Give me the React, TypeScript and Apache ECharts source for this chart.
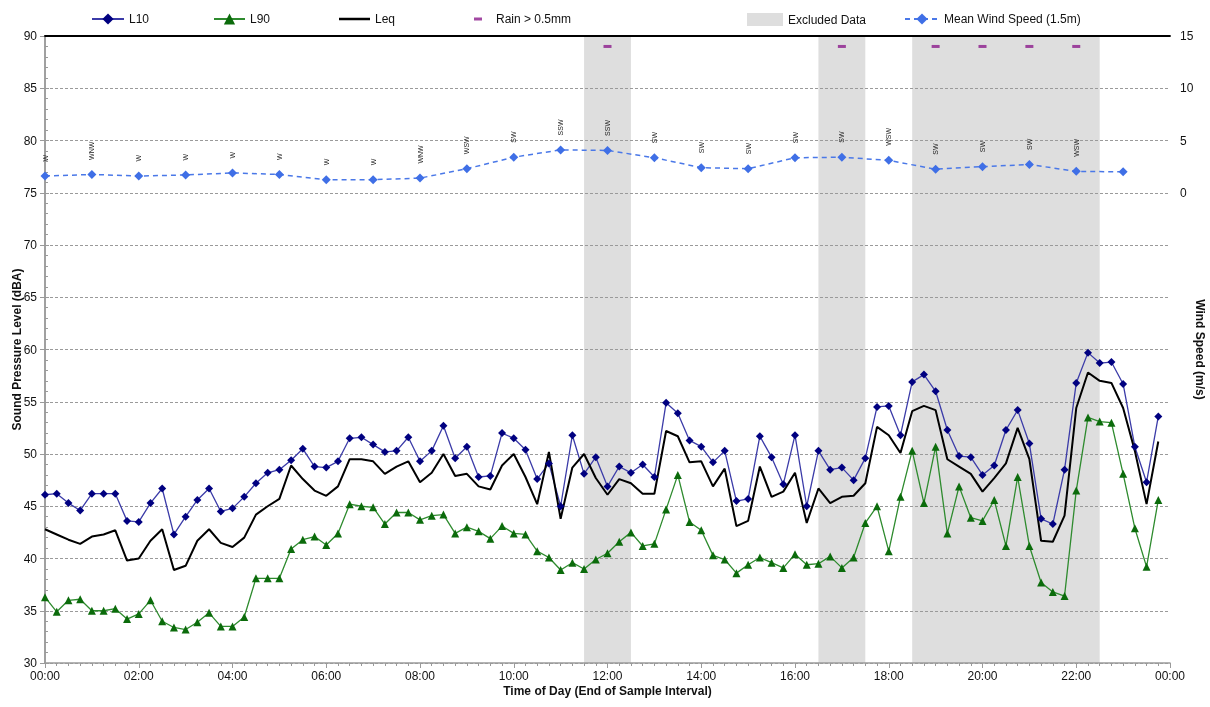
import React, { useEffect, useRef } from "react";
import * as echarts from "echarts";

// 15-minute samples, 00:00 .. 23:45
const L10 = [
  46.1, 46.2, 45.3, 44.6, 46.2, 46.2, 46.2, 43.6, 43.5, 45.3, 46.7, 42.3, 44.0, 45.6, 46.7, 44.5,
  44.8, 45.9, 47.2, 48.2, 48.5, 49.4, 50.5, 48.8, 48.7, 49.3, 51.5, 51.6, 50.9, 50.2, 50.3, 51.6,
  49.3, 50.3, 52.7, 49.6, 50.7, 47.8, 47.9, 52.0, 51.5, 50.4, 47.6, 49.1, 45.0, 51.8, 48.1, 49.7,
  46.9, 48.8, 48.2, 49.0, 47.8, 54.9, 53.9, 51.3, 50.7, 49.2, 50.3, 45.5, 45.7, 51.7, 49.7, 47.1,
  51.8, 45.0, 50.3, 48.5, 48.7, 47.5, 49.6, 54.5, 54.6, 51.8, 56.9, 57.6, 56.0, 52.3, 49.8, 49.7,
  48.0, 48.9, 52.3, 54.2, 51.0, 43.8, 43.3, 48.5, 56.8, 59.7, 58.7, 58.8, 56.7, 50.7, 47.3, 53.6,
];
const L90 = [
  36.3, 34.9, 36.0, 36.1, 35.0, 35.0, 35.2, 34.2, 34.7, 36.0, 34.0, 33.4, 33.2, 33.9, 34.8, 33.5,
  33.5, 34.4, 38.1, 38.1, 38.1, 40.9, 41.8, 42.1, 41.3, 42.4, 45.2, 45.0, 44.9, 43.3, 44.4, 44.4,
  43.7, 44.1, 44.2, 42.4, 43.0, 42.6, 41.9, 43.1, 42.4, 42.3, 40.7, 40.1, 38.9, 39.6, 39.0, 39.9,
  40.5, 41.6, 42.5, 41.2, 41.4, 44.7, 48.0, 43.5, 42.7, 40.3, 39.9, 38.6, 39.4, 40.1, 39.6, 39.1,
  40.4, 39.4, 39.5, 40.2, 39.1, 40.1, 43.4, 45.0, 40.7, 45.9, 50.3, 45.3, 50.7, 42.4, 46.9, 43.9,
  43.6, 45.6, 41.2, 47.8, 41.2, 37.7, 36.8, 36.4, 46.5, 53.5, 53.1, 53.0, 48.1, 42.9, 39.2, 45.6,
];
const LEQ = [
  42.8, 42.3, 41.8, 41.4, 42.1, 42.3, 42.7, 39.8, 40.0, 41.7, 42.8, 38.9, 39.3, 41.7, 42.8, 41.5,
  41.1, 42.0, 44.2, 45.0, 45.7, 48.9, 47.6, 46.5, 46.0, 46.9, 49.5, 49.5, 49.3, 48.1, 48.8, 49.3,
  47.3, 48.2, 50.0, 47.9, 48.1, 46.9, 46.6, 48.9, 50.0, 47.8, 45.2, 50.2, 43.8, 48.7, 50.0, 47.7,
  46.1, 47.6, 47.2, 46.2, 46.2, 52.2, 51.7, 49.2, 49.3, 46.9, 48.6, 43.1, 43.6, 48.8, 45.9, 46.4,
  48.2, 43.4, 46.7, 45.3, 45.9, 46.0, 47.2, 52.6, 51.8, 50.1, 54.1, 54.6, 54.2, 49.5, 48.8, 48.1,
  46.4, 47.7, 49.1, 52.5, 49.5, 41.7, 41.6, 44.1, 54.4, 57.8, 57.0, 56.8, 54.4, 50.3, 45.2, 51.2,
];

// hourly wind data, 00:00 .. 23:00
const windHours = [0, 1, 2, 3, 4, 5, 6, 7, 8, 9, 10, 11, 12, 13, 14, 15, 16, 17, 18, 19, 20, 21, 22, 23];
const windSpeed = [1.6, 1.75, 1.6, 1.7, 1.9, 1.75, 1.25, 1.25, 1.4, 2.3, 3.4, 4.1, 4.05, 3.35, 2.4, 2.3, 3.35, 3.4, 3.1, 2.25, 2.5, 2.7, 2.05, 2.0];
const windDir = ["W", "WNW", "W", "W", "W", "W", "W", "W", "WNW", "WSW", "SW", "SSW", "SSW", "SW", "SW", "SW", "SW", "SW", "WSW", "SW", "SW", "SW", "WSW", ""];

const rainHours = [12, 17, 19, 20, 21, 22];
const rainMarkLevel = 89;

const excludedRanges = [
  [11.5, 12.5],
  [16.5, 17.5],
  [18.5, 22.5],
];

// inner gridline levels (dBA) that stay visible across the excluded bands
const gridLevels = [35, 40, 45, 50, 55, 60, 65, 70, 75, 80, 85];

const xTickLabels = ["00:00", "02:00", "04:00", "06:00", "08:00", "10:00", "12:00", "14:00", "16:00", "18:00", "20:00", "22:00", "00:00"];

const FONT = "Liberation Sans, Arial, sans-serif";

export default function App() {
  const ref = useRef<HTMLDivElement>(null);
  useEffect(() => {
    if (!ref.current) return;
    const chart = echarts.init(ref.current, null, { renderer: "svg" });
    const t = (i: number) => i * 0.25;
    const toPts = (arr: number[]) => arr.map((v, i) => [t(i), v]);

    const legendBase = {
      top: 8,
      itemHeight: 14,
      textStyle: { fontFamily: FONT, fontSize: 12, color: "#111" },
      selectedMode: false,
    };

    chart.setOption({
      animation: false,
      textStyle: { fontFamily: FONT },
      grid: {
        left: 45,
        right: 40,
        top: 36,
        bottom: 44,
        containLabel: false,
        outerBoundsMode: "none",
      },
      legend: [
        { ...legendBase, data: ["L10"], left: 86, itemWidth: 32 },
        { ...legendBase, data: ["L90"], left: 208, itemWidth: 31 },
        {
          ...legendBase,
          data: [{ name: "Leq", icon: "rect" }],
          left: 334,
          itemWidth: 31,
          itemHeight: 2.5,
        },
        {
          ...legendBase,
          data: [{ name: "Rain > 0.5mm", icon: "rect" }],
          left: 469,
          itemWidth: 8,
          itemHeight: 3,
          textStyle: { ...legendBase.textStyle, padding: [0, 0, 0, 9] },
        },
        {
          ...legendBase,
          data: [{ name: "Excluded Data", icon: "rect" }],
          left: 742,
          itemWidth: 36,
          itemHeight: 13,
        },
        { ...legendBase, data: ["Mean Wind Speed (1.5m)"], left: 899, itemWidth: 34 },
      ],
      xAxis: [
        {
          type: "value",
          min: 0,
          max: 24,
          interval: 2,
          z: 1,
          name: "Time of Day (End of Sample Interval)",
          nameLocation: "middle",
          nameGap: 22,
          nameMoveOverlap: false,
          nameTextStyle: { fontWeight: "bold", fontSize: 12, color: "#111" },
          axisLine: { onZero: false, lineStyle: { color: "#9a9a9a", width: 1.5 } },
          axisTick: { show: true, length: 5, lineStyle: { color: "#9a9a9a" } },
          minorTick: { show: true, splitNumber: 8, length: 3, lineStyle: { color: "#9a9a9a" } },
          axisLabel: {
            color: "#111",
            fontSize: 12,
            margin: 7,
            formatter: (v: number) => xTickLabels[Math.round(v / 2)] ?? "",
          },
          splitLine: { show: false },
        },
        {
          type: "value",
          position: "top",
          min: 0,
          max: 24,
          interval: 2,
          z: 2,
          axisLine: { show: true, onZero: false, lineStyle: { color: "#000", width: 1.8 } },
          axisTick: { show: false },
          axisLabel: { show: false },
          splitLine: { show: false },
        },
      ],
      yAxis: [
        {
          type: "value",
          min: 30,
          max: 90,
          interval: 5,
          z: 1,
          name: "Sound Pressure Level (dBA)",
          nameLocation: "middle",
          nameGap: 22,
          nameMoveOverlap: false,
          nameTextStyle: { fontWeight: "bold", fontSize: 12, color: "#111" },
          axisLine: { show: true, lineStyle: { color: "#9a9a9a", width: 1.5 } },
          axisTick: { show: true, length: 5, lineStyle: { color: "#9a9a9a" } },
          axisLabel: { color: "#111", fontSize: 12, margin: 8 },
          splitLine: { show: true, lineStyle: { color: "#9a9a9a", type: [3, 2], width: 1 } },
        },
        {
          type: "value",
          min: -45,
          max: 15,
          interval: 5,
          z: 1,
          position: "right",
          name: "Wind Speed (m/s)",
          nameLocation: "middle",
          nameGap: 24,
          nameRotate: -90,
          nameMoveOverlap: false,
          nameTextStyle: { fontWeight: "bold", fontSize: 12, color: "#111" },
          axisLine: { show: true, lineStyle: { color: "#9a9a9a", width: 1.5 } },
          axisTick: { show: true, length: 4, lineStyle: { color: "#9a9a9a" } },
          minorTick: { show: true, splitNumber: 5, length: 3, lineStyle: { color: "#9a9a9a" } },
          axisLabel: {
            color: "#111",
            fontSize: 12,
            margin: 10,
            formatter: (v: number) => (v >= 0 ? String(v) : ""),
          },
          splitLine: { show: false },
        },
      ],
      series: [
        {
          name: "Excluded Data",
          type: "line",
          z: 0,
          color: "#DEDEDE",
          data: [],
          markArea: {
            silent: true,
            z: 0,
            itemStyle: { color: "#DEDEDE" },
            data: excludedRanges.map(([a, b]) => [{ xAxis: a }, { xAxis: b }]),
          },
          markLine: {
            silent: true,
            z: 1,
            symbol: ["none", "none"],
            label: { show: false },
            lineStyle: { color: "#9a9a9a", type: [3, 2], width: 1 },
            data: gridLevels.map((v) => ({ yAxis: v })),
          },
        },
        {
          name: "L10",
          type: "line",
          z: 3,
          data: toPts(L10),
          symbol: "diamond",
          symbolSize: 8,
          showAllSymbol: true,
          color: "#000080",
          itemStyle: { color: "#000080" },
          lineStyle: { color: "#3B3BA8", width: 1.3 },
        },
        {
          name: "L90",
          type: "line",
          z: 3,
          data: toPts(L90),
          symbol: "triangle",
          symbolSize: 8,
          showAllSymbol: true,
          color: "#0B6B0B",
          itemStyle: { color: "#0B6B0B" },
          lineStyle: { color: "#2E8B2E", width: 1.3 },
        },
        {
          name: "Leq",
          type: "line",
          z: 3,
          data: toPts(LEQ),
          symbol: "none",
          color: "#000000",
          itemStyle: { color: "#000000" },
          lineStyle: { color: "#000000", width: 2 },
        },
        {
          name: "Rain > 0.5mm",
          type: "scatter",
          z: 3,
          data: rainHours.map((h) => [h, rainMarkLevel]),
          symbol: "rect",
          symbolSize: [8, 3],
          color: "#8B1A8B",
          itemStyle: { color: "#8B1A8B" },
        },
        {
          name: "Mean Wind Speed (1.5m)",
          type: "line",
          yAxisIndex: 1,
          z: 3,
          data: windHours.map((h, i) => [h, windSpeed[i]]),
          symbol: "diamond",
          symbolSize: 9,
          color: "#3F6FE6",
          itemStyle: { color: "#3F6FE6" },
          lineStyle: { color: "#4A78E8", width: 1.5, type: [5, 4] },
          label: {
            show: true,
            position: "top",
            distance: 10,
            rotate: 90,
            align: "left",
            verticalAlign: "middle",
            fontSize: 7,
            color: "#222",
            formatter: (p: any) => windDir[p.dataIndex] ?? "",
          },
        },
      ],
    });
    return () => chart.dispose();
  }, []);
  return (
    <div
      ref={ref}
      style={{ position: "fixed", left: 0, top: 0, width: 1210, height: 707 }}
    />
  );
}
